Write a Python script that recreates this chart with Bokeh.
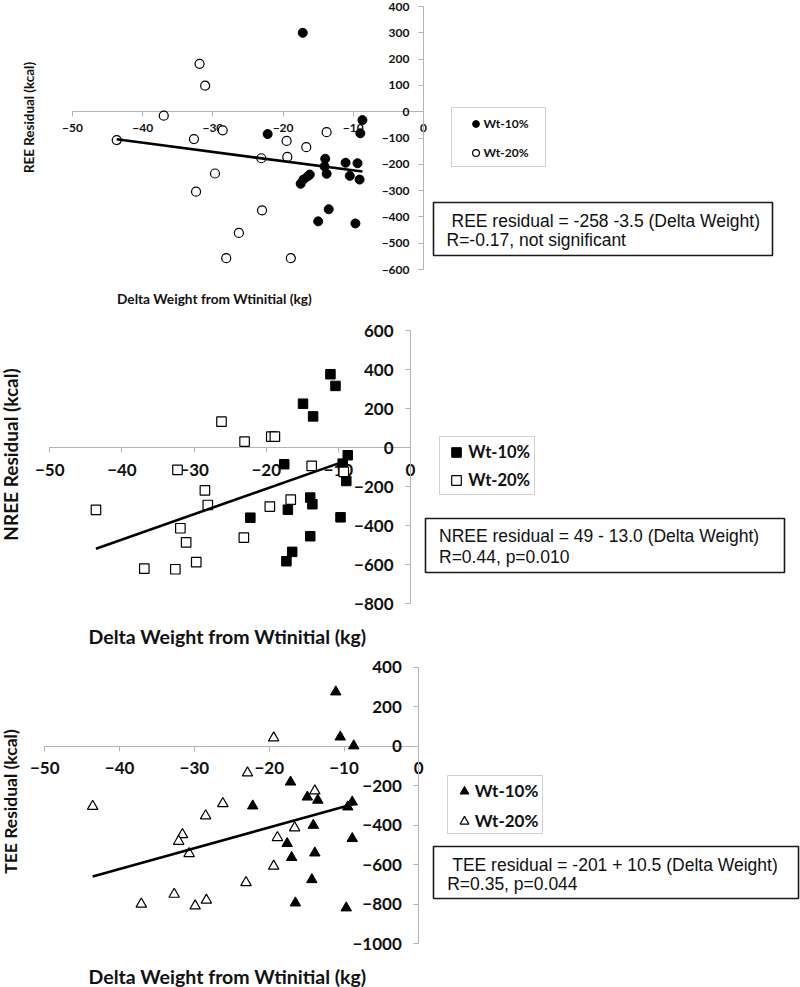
import math
from bokeh.plotting import figure
from bokeh.models import LinearAxis, FixedTicker, Label, BoxAnnotation, Legend, LegendItem
from bokeh.layouts import column
from bokeh.embed import file_html
from bokeh.resources import INLINE

# ---------------- data ----------------
x_ticks = [-50, -40, -30, -20, -10, 0]
ree_y_ticks = [-600, -500, -400, -300, -200, -100, 0, 100, 200, 300, 400]
nree_y_ticks = [-800, -600, -400, -200, 0, 200, 400, 600]
tee_y_ticks = [-1000, -800, -600, -400, -200, 0, 200, 400]

series_names = ["Wt-10%", "Wt-20%"]
x_title = "Delta Weight from Wtinitial (kg)"

# Panel 1: REE residual
ree_w10_x = [-17.2, -8.7, -9.0, -22.2, -14.0, -14.1, -13.8, -11.1, -9.4, -10.5, -9.1,
             -16.2, -16.5, -17.1, -17.5, -13.5, -15.0, -9.7]
ree_w10_y = [300, -32, -82, -85, -179, -208, -236, -194, -196, -244, -258,
             -239, -246, -258, -274, -371, -417, -425]
ree_w20_x = [-31.9, -31.1, -37.0, -43.7, -32.7, -28.6, -13.8, -19.5, -16.7, -23.1, -19.4,
             -29.7, -32.4, -23.0, -26.3, -28.1, -18.9]
ree_w20_y = [182, 99, -15, -108, -104, -71, -78, -111, -135, -177, -172,
             -235, -304, -375, -461, -557, -557]
ree_fit = [-258, -3.5]          # intercept, slope
ree_text = ["REE residual = -258 -3.5 (Delta Weight)", "R=-0.17, not significant"]
ree_y_title = "REE Residual (kcal)"

# Panel 2: NREE residual
nree_w10_x = [-11.1, -10.4, -14.9, -13.5, -17.5, -8.7, -9.4, -8.9, -13.9, -13.6, -9.7,
              -17.0, -22.2, -13.9, -16.4, -17.2]
nree_w10_y = [376, 316, 225, 160, -85, -39, -82, -171, -256, -290, -357,
              -318, -359, -454, -534, -582]
nree_w20_x = [-26.2, -23.0, -19.3, -18.8, -32.3, -13.7, -9.25, -28.5, -28.1, -16.6, -19.5,
              -43.6, -31.9, -31.1, -23.1, -29.7, -36.9, -32.6]
nree_w20_y = [133, 31, 56, 56, -114, -94, -124, -219, -294, -266, -302,
              -319, -413, -485, -461, -587, -620, -623]
nree_fit = [49, 13.0]
nree_text = ["NREE residual = 49 - 13.0 (Delta Weight)", "R=0.44, p=0.010"]
nree_y_title = "NREE Residual (kcal)"

# Panel 3: TEE residual
tee_w10_x = [-11.1, -10.5, -8.7, -17.15, -22.2, -14.9, -13.5, -8.9, -9.5, -14.1, -8.9,
             -17.6, -17.0, -13.9, -14.3, -16.5, -9.7]
tee_w10_y = [275, 47, 2, -181, -302, -257, -273, -282, -307, -400, -467,
             -492, -563, -540, -675, -793, -818]
tee_w20_x = [-19.4, -22.9, -13.9, -43.6, -26.2, -28.5, -31.6, -32.1, -30.7, -16.6, -18.9,
             -19.4, -23.1, -32.7, -37.1, -29.9, -28.4]
tee_w20_y = [42, -135, -226, -304, -290, -352, -447, -481, -543, -413, -462,
             -607, -690, -749, -799, -808, -779]
tee_fit = [-201, 10.5]
tee_text = ["TEE residual = -201 + 10.5 (Delta Weight)", "R=0.35, p=0.044"]
tee_y_title = "TEE Residual (kcal)"

# ---------------- styling helpers ----------------
W = 800
OFF = 0
AXIS_GREY = "#b4b4b4"
TICK_FONT = "Lato"
BOX_FONT = "Liberation Sans"


def make_panel(top, h, x0_page, xs, yref_val, yref_page, ys):
    lx0 = x0_page - OFF
    x_start = -lx0 / xs
    x_end = (W - lx0) / xs
    y_end = yref_val + (yref_page - top) / ys
    y_start = y_end - h / ys
    p = figure(width=W, height=h, x_range=(x_start, x_end), y_range=(y_start, y_end),
               x_axis_location=None, y_axis_location=None, toolbar_location=None,
               output_backend="svg", min_border=0, tools="")
    p.outline_line_color = None
    p.background_fill_color = "white"
    p.border_fill_color = "white"
    p.grid.visible = False

    def dx(px):
        return x_start + (px - OFF) / xs

    def dy(py):
        return y_end - (py - top) / ys

    return p, dx, dy


def add_axes(p, yticks, fsize, xstand, ystand):
    xa = LinearAxis(fixed_location=0, ticker=FixedTicker(ticks=x_ticks),
                    bounds=(min(x_ticks), max(x_ticks)))
    ya = LinearAxis(fixed_location=0, ticker=FixedTicker(ticks=yticks),
                    bounds=(min(yticks), max(yticks)))
    for a in (xa, ya):
        a.level = "underlay"
        a.axis_line_color = AXIS_GREY
        a.axis_line_width = 1
        a.major_tick_line_color = AXIS_GREY
        a.major_tick_in = 0
        a.major_tick_out = 5
        a.minor_tick_line_color = None
        a.major_label_text_font = TICK_FONT
        a.major_label_text_font_style = "bold"
        a.major_label_text_font_size = fsize
        a.major_label_text_color = "#111111"
    xa.major_label_standoff = xstand
    ya.major_label_standoff = ystand
    p.add_layout(xa, "below")
    p.add_layout(ya, "left")


def add_series(p, marker, size, xs10, ys10, xs20, ys20, fit):
    r1 = p.scatter(x=xs10, y=ys10, marker=marker, size=size, fill_color="black",
                   line_color="black", line_width=1)
    r2 = p.scatter(x=xs20, y=ys20, marker=marker, size=size, fill_color="white",
                   line_color="black", line_width=1.2)
    allx = xs10 + xs20
    lx = [min(allx), max(allx)]
    ly = [fit[0] + fit[1] * v for v in lx]
    p.line(x=lx, y=ly, line_color="black", line_width=2.6)
    return r1, r2


def add_legend(p, dx, dy, r1, r2, box, row1_y, mx, g, spacing, fsize, top, h, standoff=0):
    bl, bt, br, bb = box
    p.add_layout(BoxAnnotation(left=dx(bl), right=dx(br), top=dy(bt), bottom=dy(bb),
                               fill_color="white", fill_alpha=1.0,
                               line_color="#d0d0d0", line_alpha=1.0, line_width=1))
    legend_top = row1_y - g / 2
    legend_bottom = legend_top + 2 * g + spacing
    vy = (top + h) - legend_bottom
    vx = mx - g / 2 - OFF
    leg = Legend(items=[LegendItem(label=series_names[0], renderers=[r1]),
                        LegendItem(label=series_names[1], renderers=[r2])],
                 location=(vx, vy), padding=0, margin=0, spacing=spacing,
                 glyph_width=g, glyph_height=g, label_height=g, label_standoff=standoff,
                 border_line_color=None, background_fill_alpha=0,
                 label_text_font=TICK_FONT, label_text_font_style="bold",
                 label_text_font_size=fsize, label_text_color="#111111")
    p.add_layout(leg)


def add_textbox(p, dx, dy, box, lines, positions, fsize):
    bl, bt, br, bb = box
    p.add_layout(BoxAnnotation(left=dx(bl), right=dx(br), top=dy(bt), bottom=dy(bb),
                               fill_color="white", fill_alpha=1.0,
                               line_color="#1a1a1a", line_alpha=1.0, line_width=1.6))
    for t, (px, py) in zip(lines, positions):
        p.add_layout(Label(x=dx(px), y=dy(py), text=t, text_font=BOX_FONT,
                           text_font_size=fsize, text_align="left",
                           text_baseline="middle", text_color="#111111"))


def add_titles(p, dx, dy, xpos, xsize, ypos, ysize, ytext):
    p.add_layout(Label(x=dx(xpos[0]), y=dy(xpos[1]), text=x_title, text_font=TICK_FONT,
                       text_font_style="bold", text_font_size=xsize, text_align="center",
                       text_baseline="middle", text_color="#111111"))
    p.add_layout(Label(x=dx(ypos[0]), y=dy(ypos[1]), text=ytext, text_font=TICK_FONT,
                       text_font_style="bold", text_font_size=ysize, text_align="center",
                       text_baseline="middle", angle=math.pi / 2, text_color="#111111"))


# ---------------- panel 1 : REE ----------------
T1, H1 = 0, 318
p1, dx1, dy1 = make_panel(T1, H1, 423, 7.02, 400, 6, 0.263)
add_axes(p1, ree_y_ticks, "12px", 7, 9)
r1a, r1b = add_series(p1, "circle", 9, ree_w10_x, ree_w10_y, ree_w20_x, ree_w20_y, ree_fit)
add_legend(p1, dx1, dy1, r1a, r1b, (451, 107, 545, 166), 123, 475, 17, 12, "12px", T1, H1)
add_textbox(p1, dx1, dy1, (433, 202, 772, 255), ree_text, [(451, 220), (446, 239.5)], "17.5px")
add_titles(p1, dx1, dy1, (214, 298), "13.7px", (28, 117), "13.4px", ree_y_title)

# ---------------- panel 2 : NREE ----------------
T2, H2 = 318, 332
p2, dx2, dy2 = make_panel(T2, H2, 410, 7.214, 600, 330, 0.1952)
add_axes(p2, nree_y_ticks, "17px", 11, 12)
r2a, r2b = add_series(p2, "square", 9.5, nree_w10_x, nree_w10_y, nree_w20_x, nree_w20_y, nree_fit)
add_legend(p2, dx2, dy2, r2a, r2b, (439, 436, 534, 494), 451.7, 456.3, 24, 4, "16.5px", T2, H2)
add_textbox(p2, dx2, dy2, (425, 518, 784, 572), nree_text, [(438.5, 535.7), (438.5, 556)], "17.5px")
add_titles(p2, dx2, dy2, (227, 636), "19.5px", (10, 454), "19px", nree_y_title)

# ---------------- panel 3 : TEE ----------------
T3, H3 = 650, 337
p3, dx3, dy3 = make_panel(T3, H3, 418.3, 7.48, 400, 666.7, 0.1976)
add_axes(p3, tee_y_ticks, "17px", 11, 12)
r3a, r3b = add_series(p3, "triangle", 10.5, tee_w10_x, tee_w10_y, tee_w20_x, tee_w20_y, tee_fit)
add_legend(p3, dx3, dy3, r3a, r3b, (447, 775, 542, 833), 790.7, 463.7, 22, 8, "17px", T3, H3)
add_textbox(p3, dx3, dy3, (433, 846, 798, 898), tee_text, [(451.7, 864), (446.7, 883.3)], "17.5px")
add_titles(p3, dx3, dy3, (227, 976), "19.5px", (9.5, 801), "17.5px", tee_y_title)

layout = column(p1, p2, p3, spacing=0)
open("out.html", "w").write(file_html(layout, INLINE))
